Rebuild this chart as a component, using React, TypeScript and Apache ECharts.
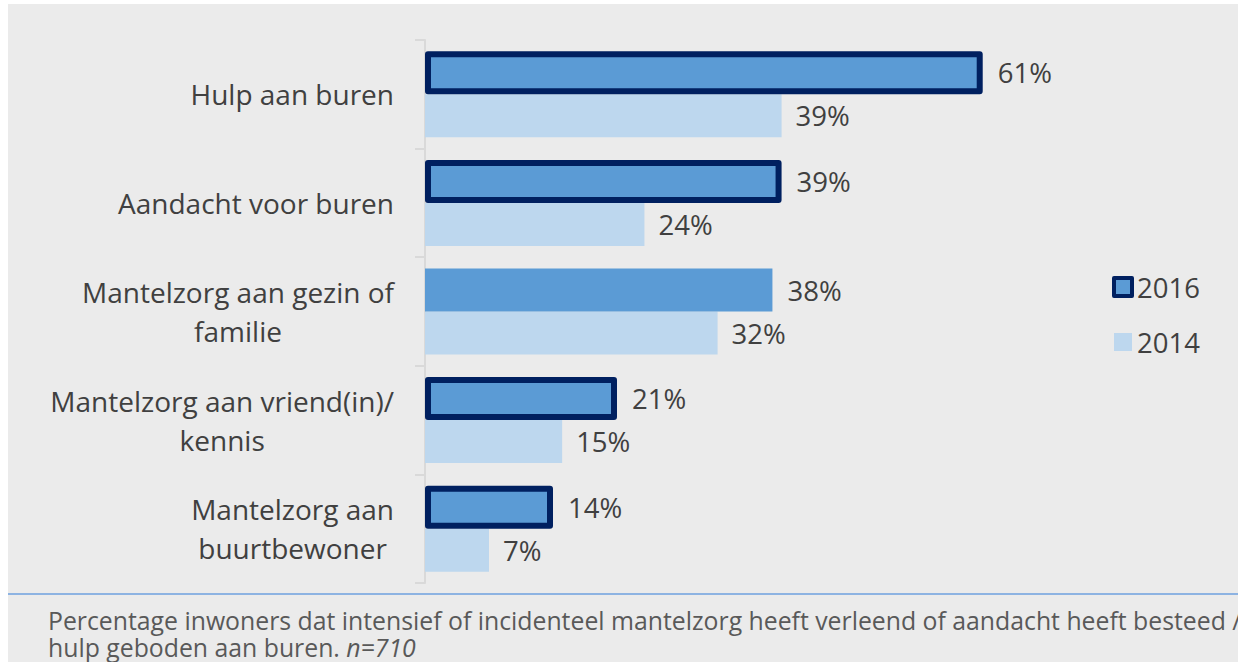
import React, { useEffect, useRef } from "react";
import * as echarts from "echarts";

const categories = [
  "Hulp aan buren",
  "Aandacht voor buren",
  "Mantelzorg aan gezin of\nfamilie",
  "Mantelzorg aan vriend(in)/\nkennis",
  "Mantelzorg aan\nbuurtbewoner",
];
const values2016 = [61, 39, 38, 21, 14];
const values2014 = [39, 24, 32, 15, 7];
const outlined2016 = [true, true, false, true, true];
const seriesNames = ["2016", "2014"];
const captionLine1 =
  "Percentage inwoners dat intensief of incidenteel mantelzorg heeft verleend of aandacht heeft besteed / ";
const captionLine2a = "hulp geboden aan buren.";
const captionLine2b = " n=710";

const FONT = "'Open Sans', 'Noto Sans', sans-serif";
const TEXT = "#404040";
const DARK = "#002060";
const MID = "#5b9bd5";
const LIGHT = "#bdd7ee";

export default function App() {
  const ref = useRef<HTMLDivElement>(null);
  useEffect(() => {
    if (!ref.current) return;
    const chart = echarts.init(ref.current, undefined, { renderer: "svg" });
    chart.setOption({
      animation: false,
      backgroundColor: "#ebebeb",
      textStyle: { fontFamily: FONT },
      grid: { left: 417, top: 36, width: 640, height: 543, containLabel: false },
      legend: {
        orient: "vertical",
        left: 1099,
        top: 264,
        itemWidth: 18,
        itemHeight: 18,
        itemGap: 27,
        icon: "rect",
        textStyle: { fontSize: 27.5, color: TEXT, fontFamily: FONT, lineHeight: 26 },
        data: [
          { name: seriesNames[0], itemStyle: { color: MID, borderColor: DARK, borderWidth: 4 } },
          { name: seriesNames[1], itemStyle: { color: LIGHT, borderWidth: 0 } },
        ],
      },
      xAxis: { type: "value", min: 0, max: 70, show: false, splitLine: { show: false } },
      yAxis: {
        type: "category",
        inverse: true,
        data: categories,
        axisLine: { show: true, lineStyle: { color: "#d9d9d9", width: 2 } },
        axisTick: { show: true, length: 10, lineStyle: { color: "#d9d9d9", width: 2 } },
        axisLabel: {
          margin: 31,
          align: "right",
          formatter: (v: string) =>
            v
              .split("\n")
              .map((l) => `{c|${l}}`)
              .join("\n"),
          rich: {
            c: { align: "center", fontSize: 28, lineHeight: 39, color: TEXT, fontFamily: FONT },
          },
        },
      },
      series: [
        {
          name: seriesNames[0],
          type: "bar",
          z: 3,
          barWidth: 43,
          barGap: "0%",
          itemStyle: { color: MID, borderColor: DARK, borderWidth: 6, borderJoin: "round" },
          label: {
            show: true,
            position: "right",
            distance: 15,
            formatter: "{c}%",
            fontSize: 27.5,
            color: TEXT,
            fontFamily: FONT,
          },
          data: values2016.map((v, i) => ({
            value: v,
            itemStyle: outlined2016[i]
              ? { color: MID, borderColor: DARK, borderWidth: 6 }
              : { color: MID, borderWidth: 0 },
          })),
        },
        {
          name: seriesNames[1],
          type: "bar",
          z: 2,
          barWidth: 43,
          barGap: "0%",
          itemStyle: { color: LIGHT },
          label: {
            show: true,
            position: "right",
            distance: 14,
            formatter: "{c}%",
            fontSize: 27.5,
            color: TEXT,
            fontFamily: FONT,
          },
          data: values2014,
        },
      ],
      graphic: [
        {
          type: "line",
          shape: { x1: 0, y1: 590, x2: 1230, y2: 590 },
          style: { stroke: "#8db3e2", lineWidth: 2 },
        },
        {
          type: "text",
          left: 40,
          top: 603,
          style: {
            text: `{n|${captionLine1}}\n{n|${captionLine2a}}{i|${captionLine2b}}`,
            rich: {
              n: { fontSize: 24.8, lineHeight: 27, fill: "#595959", fontFamily: FONT },
              i: {
                fontSize: 24.8,
                lineHeight: 27,
                fill: "#595959",
                fontFamily: FONT,
                fontStyle: "italic",
              },
            },
          },
        },
      ],
    });
    return () => chart.dispose();
  }, []);
  return (
    <div
      ref={ref}
      style={{ position: "absolute", left: 8, top: 4, width: 1230, height: 658 }}
    />
  );
}
